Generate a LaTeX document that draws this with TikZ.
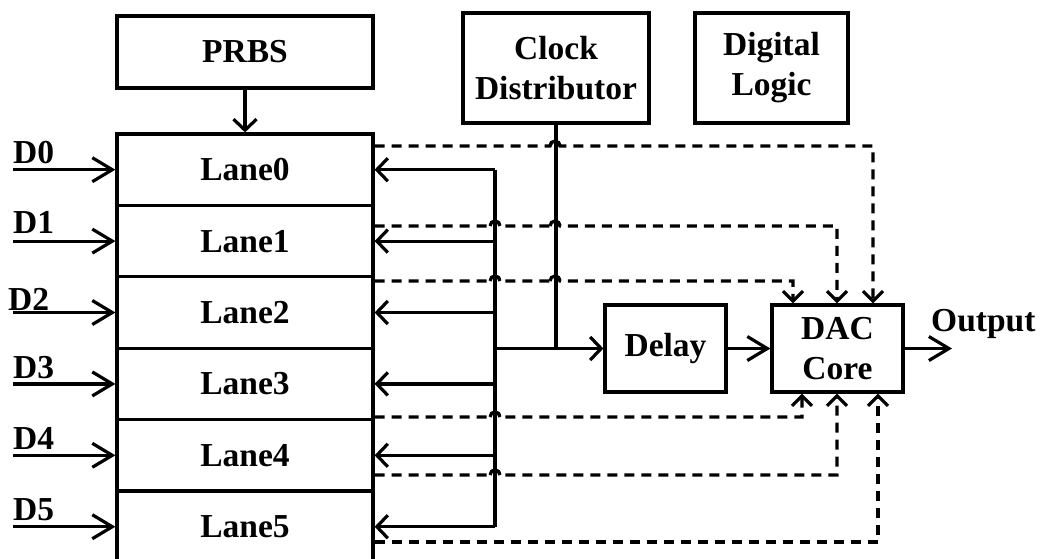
\documentclass[tikz,border=0pt]{standalone}
\usepackage{fontspec}
\setmainfont{Liberation Serif}
\usetikzlibrary{arrows.meta,calc}
\tikzset{
  txt/.style={font=\bfseries\fontsize{33.5}{40}\selectfont},
  box/.style={draw, line width=3.2pt, inner sep=0pt, align=center, txt},
  lbl/.style={inner sep=0pt, txt},
  wire/.style={line width=3.2pt},
  sarr/.style={wire, -{Straight Barb[length=11pt,width=23pt]}},
  barr/.style={wire, -{Straight Barb[length=20pt,width=24pt]}},
  dline/.style={wire, dash pattern=on 10pt off 7pt, -{Straight Barb[length=10pt,width=20pt]}},
  hop/.style={wire},
}
\begin{document}
\begin{tikzpicture}[x=1pt,y=-1pt]
\path[fill=white,use as bounding box] (0,0) rectangle (1040,558);

% blocks
\node[box, minimum width=256pt, minimum height=72pt] (prbs) at (245,52) {PRBS};
\node[box, minimum width=186pt, minimum height=110pt] (clk) at (556,68) {Clock\\Distributor};
\node[box, minimum width=153pt, minimum height=110pt] (dig) at (771.5,68) {Digital\\Logic};
\foreach \i in {0,...,5}
  \node[box, minimum width=256pt, minimum height=71.4pt] (l\i) at (245,{134+71.4*(\i+0.5)}) {Lane\i};
\node[box, minimum width=121pt, minimum height=87pt] (delay) at (665.5,348.5) {Delay};
\node[box, minimum width=131pt, minimum height=87pt] (dac) at (837.5,348.5) {DAC\\Core};

% data inputs
\coordinate (in) at (13,0);
\foreach \i in {0,...,5}
  \draw[barr] (l\i.west -| in) -- (l\i.west);
\node[lbl, anchor=base west] (t0) at (13,163) {D0};
\node[lbl, anchor=base west] (t1) at (13,233) {D1};
\node[lbl, anchor=base west] (t2) at (8,310) {D2};
\node[lbl, anchor=base west] (t3) at (13,378) {D3};
\node[lbl, anchor=base west] (t4) at (13,449) {D4};
\node[lbl, anchor=base west] (t5) at (13,520) {D5};

% PRBS feed
\draw[sarr] (prbs.south) -- (l0.north);

% clock tree
\coordinate (bt) at (495,169.7);
\coordinate (bb) at (495,526.7);
\draw[wire] (bt) -- (bb);
\foreach \i in {0,...,5}
  \draw[sarr] (l\i.east -| bt) -- (l\i.east);
\draw[wire] (clk.south) -- (clk.south |- delay.west);
\draw[sarr] (bt |- delay.west) -- (delay.west);

% datapath
\draw[barr] (delay.east) -- (dac.west);
\coordinate (out) at (952,348.5);
\draw[barr] (dac.east) -- (out);
\node[lbl, anchor=base west] (outl) at (931,331) {Output};

% lane outputs into the DAC core
\draw[dline] ([yshift=23.7pt]l0.east) -- (550,146) arc[start angle=180,end angle=0,radius=5pt]
  -| ([xshift=35.5pt]dac.north);
\draw[dline] ([yshift=15.1pt]l1.east) -- (490,226) arc[start angle=180,end angle=0,radius=5pt]
  -- (550,226) arc[start angle=180,end angle=0,radius=5pt] -| ([xshift=-0.5pt]dac.north);
\draw[dline] ([yshift=31.5pt]l2.east) -- (490,281) arc[start angle=180,end angle=0,radius=5pt]
  -- (550,281) arc[start angle=180,end angle=0,radius=5pt] -| ([xshift=-44.5pt]dac.north);
\draw[dline] ([yshift=-33.1pt]l3.east) -- (490,417) arc[start angle=180,end angle=0,radius=5pt]
  -| ([xshift=-35.5pt]dac.south);
\draw[dline] ([yshift=-19.7pt]l4.east) -- (490,475) arc[start angle=180,end angle=0,radius=5pt]
  -| ([xshift=-0.5pt]dac.south);
\draw[dline] ([yshift=-15.3pt]l5.east) -| ([xshift=40.5pt]dac.south);

% solid jumps over the clock wires
\foreach \x/\y in {550/146,490/226,550/226,490/281,550/281,490/417,490/475}
  \draw[hop] (\x,\y) arc[start angle=180,end angle=0,radius=5pt];
\end{tikzpicture}
\end{document}
